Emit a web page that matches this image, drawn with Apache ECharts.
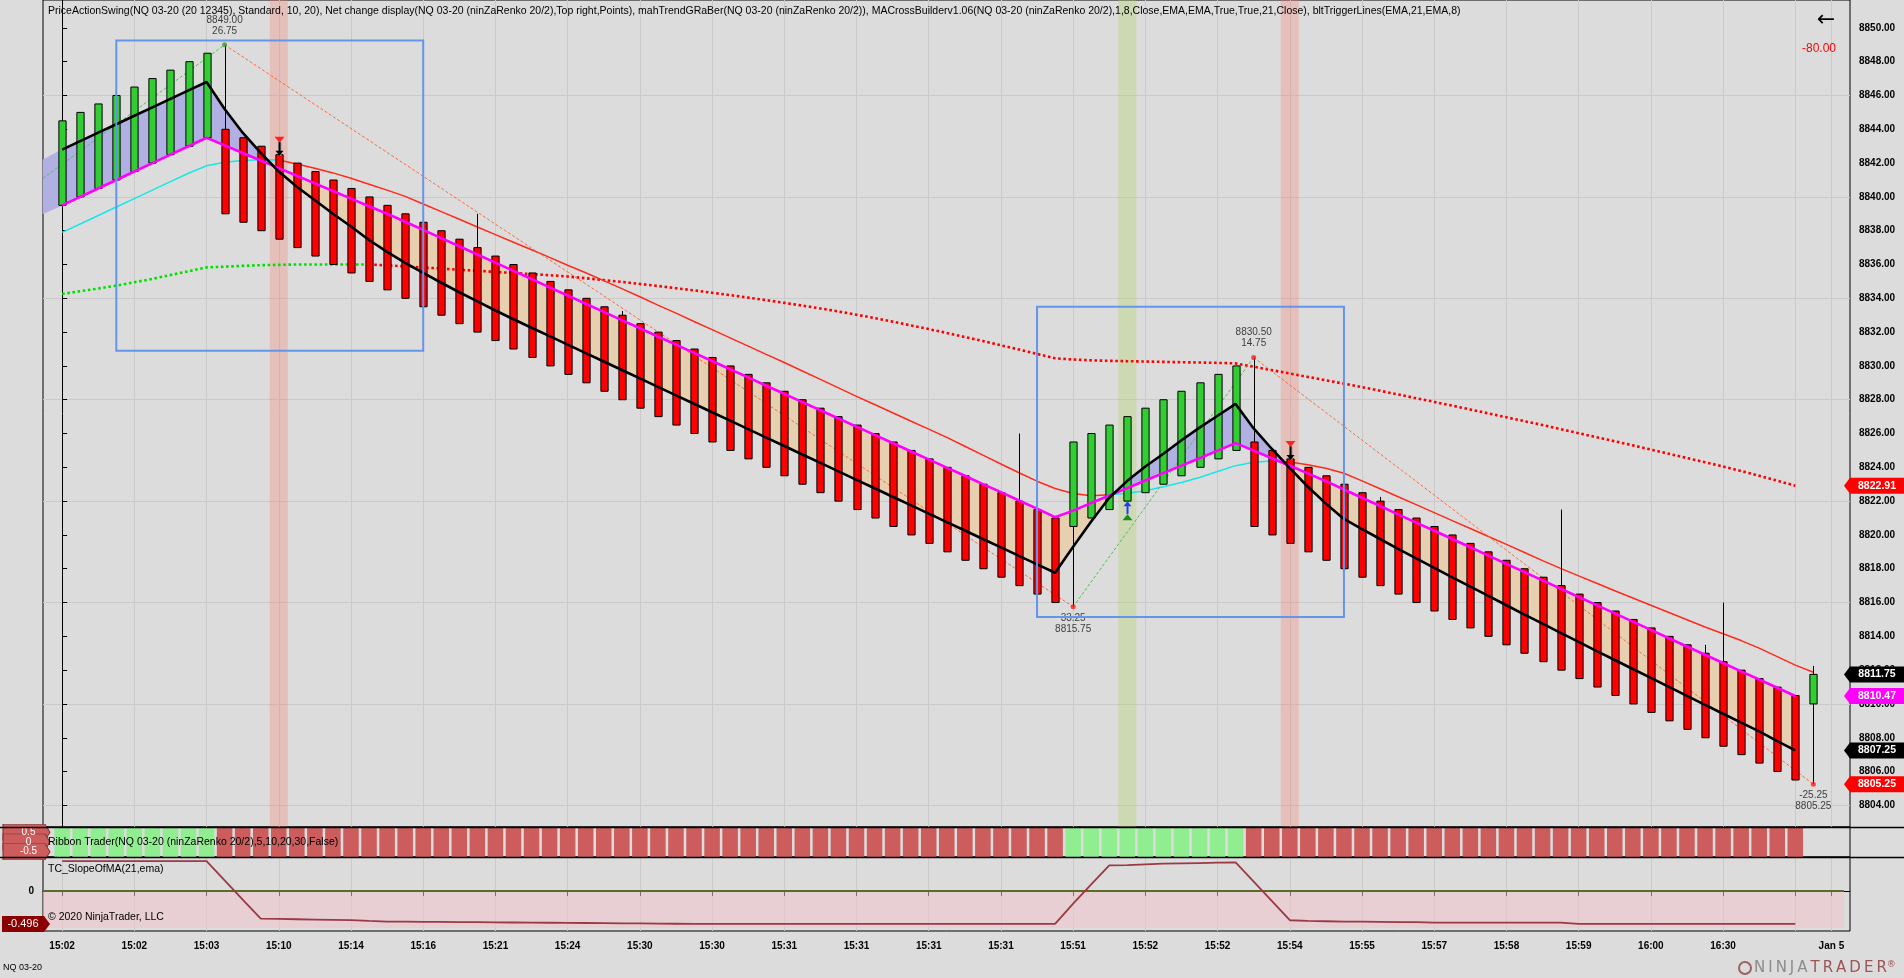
<!DOCTYPE html>
<html>
<head>
<meta charset="utf-8">
<title>NQ 03-20 (ninZaRenko 20/2)</title>
<script src="https://cdn.jsdelivr.net/npm/echarts@6.0.0/dist/echarts.min.js"></script>
<style>
  html, body { margin: 0; padding: 0; background: #dcdcdc; }
  #main { width: 1904px; height: 978px; }
</style>
</head>
<body>
<div id="main"></div>
<script>
// renko bars are indexed 0..97, the time axis only labels every 4th bar
const gridTicks = [0, 4, 8, 12, 16, 20, 24, 28, 32, 36, 40, 44, 48, 52, 56, 60, 64, 68, 72, 76, 80, 84, 88, 92, 96, 98];
const timeTicks = [0, 4, 8, 12, 16, 20, 24, 28, 32, 36, 40, 44, 48, 52, 56, 60, 64, 68, 72, 76, 80, 84, 88, 92, 98];
const timeLabels = ['15:02', '15:02', '15:03', '15:10', '15:14', '15:16', '15:21', '15:24', '15:30', '15:30', '15:31', '15:31', '15:31',
  '15:31', '15:51', '15:52', '15:52', '15:54', '15:55', '15:57', '15:58', '15:59', '16:00', '16:30', 'Jan 5'];

const priceTicks = [8804, 8806, 8808, 8810, 8812, 8814, 8816, 8818, 8820, 8822, 8824, 8826, 8828, 8830, 8832, 8834, 8836, 8838,
  8840, 8842, 8844, 8846, 8848, 8850];
const priceGridLines = [8804, 8810, 8816, 8822, 8828, 8834, 8840, 8846];

const opens = [
  8839.5, 8840.0, 8840.5, 8841.0, 8841.5, 8842.0, 8842.5, 8843.0, 8843.5,
  8844.0, 8843.5, 8843.0, 8842.5, 8842.0, 8841.5, 8841.0, 8840.5, 8840.0, 8839.5,
  8839.0, 8838.5, 8838.0, 8837.5, 8837.0, 8836.5, 8836.0, 8835.5, 8835.0, 8834.5,
  8834.0, 8833.5, 8833.0, 8832.5, 8832.0, 8831.5, 8831.0, 8830.5, 8830.0, 8829.5,
  8829.0, 8828.5, 8828.0, 8827.5, 8827.0, 8826.5, 8826.0, 8825.5, 8825.0, 8824.5,
  8824.0, 8823.5, 8823.0, 8822.5, 8822.0, 8821.5, 8821.0,
  8820.5, 8821.0, 8821.5, 8822.0, 8822.5, 8823.0, 8823.5, 8824.0, 8824.5, 8825.0,
  8825.5, 8825.0, 8824.5, 8824.0, 8823.5, 8823.0, 8822.5, 8822.0, 8821.5, 8821.0,
  8820.5, 8820.0, 8819.5, 8819.0, 8818.5, 8818.0, 8817.5, 8817.0, 8816.5, 8816.0,
  8815.5, 8815.0, 8814.5, 8814.0, 8813.5, 8813.0, 8812.5, 8812.0, 8811.5, 8811.0,
  8810.5,
  8810.0
];
const closes = [
  8844.5, 8845.0, 8845.5, 8846.0, 8846.5, 8847.0, 8847.5, 8848.0, 8848.5,
  8839.0, 8838.5, 8838.0, 8837.5, 8837.0, 8836.5, 8836.0, 8835.5, 8835.0, 8834.5,
  8834.0, 8833.5, 8833.0, 8832.5, 8832.0, 8831.5, 8831.0, 8830.5, 8830.0, 8829.5,
  8829.0, 8828.5, 8828.0, 8827.5, 8827.0, 8826.5, 8826.0, 8825.5, 8825.0, 8824.5,
  8824.0, 8823.5, 8823.0, 8822.5, 8822.0, 8821.5, 8821.0, 8820.5, 8820.0, 8819.5,
  8819.0, 8818.5, 8818.0, 8817.5, 8817.0, 8816.5, 8816.0,
  8825.5, 8826.0, 8826.5, 8827.0, 8827.5, 8828.0, 8828.5, 8829.0, 8829.5, 8830.0,
  8820.5, 8820.0, 8819.5, 8819.0, 8818.5, 8818.0, 8817.5, 8817.0, 8816.5, 8816.0,
  8815.5, 8815.0, 8814.5, 8814.0, 8813.5, 8813.0, 8812.5, 8812.0, 8811.5, 8811.0,
  8810.5, 8810.0, 8809.5, 8809.0, 8808.5, 8808.0, 8807.5, 8807.0, 8806.5, 8806.0,
  8805.5,
  8811.75
];
// only the bars that show a wick outside the brick
const wickHighs = [[9, 8849.0], [23, 8839.0], [31, 8833.25], [53, 8826.0], [66, 8830.5], [73, 8822.25], [83, 8821.5],
  [91, 8813.5], [92, 8816.0], [97, 8812.25]];
const wickLows = [[56, 8815.75], [97, 8805.25]];

// mahTrendGRaBer (black)
const trendLine = [
  8842.8, 8843.3, 8843.8, 8844.3, 8844.8, 8845.3, 8845.8, 8846.3, 8846.8,
  8845.2, 8843.8, 8842.6, 8841.5, 8840.6, 8839.8, 8839.0, 8838.25, 8837.45, 8836.75, 8836.1, 8835.5, 8834.92, 8834.36, 8833.82, 8833.28,
  8832.76, 8832.26, 8831.76, 8831.26, 8830.76, 8830.26, 8829.76, 8829.26, 8828.76, 8828.26, 8827.76, 8827.26, 8826.76, 8826.26,
  8825.76, 8825.26, 8824.76, 8824.26, 8823.76, 8823.26, 8822.76, 8822.26, 8821.76, 8821.26, 8820.76, 8820.26, 8819.76, 8819.26,
  8818.76, 8818.26, 8817.76,
  8819.3, 8820.8, 8822.2, 8823.2, 8824.05, 8824.8, 8825.6, 8826.35, 8827.05, 8827.75,
  8826.3, 8825.1, 8823.95, 8822.85, 8821.85,
  8820.95, 8820.35, 8819.76, 8819.18, 8818.61, 8818.05, 8817.49, 8816.94, 8816.39, 8815.84, 8815.29, 8814.75, 8814.21,
  8813.67, 8813.13, 8812.6, 8812.07, 8811.54, 8811.01, 8810.48, 8809.95, 8809.42, 8808.9, 8808.38, 8807.8, 8807.25
];
// bltTriggerLines EMA 8 (magenta)
const triggerLine = [
  8839.5, 8840.0, 8840.5, 8841.0, 8841.5, 8842.0, 8842.5, 8843.0, 8843.5,
  8843.05, 8842.6, 8842.15, 8841.7, 8841.25, 8840.8, 8840.35, 8839.9, 8839.45, 8839.0, 8838.53,
  8838.05, 8837.56, 8837.08, 8836.59, 8836.11, 8835.62, 8835.14, 8834.65, 8834.17, 8833.68, 8833.2, 8832.71,
  8832.23, 8831.74, 8831.26, 8830.77, 8830.29, 8829.8, 8829.32, 8828.83, 8828.35, 8827.86, 8827.38, 8826.89,
  8826.41, 8825.92, 8825.44, 8824.95, 8824.47, 8823.98, 8823.5, 8823.01, 8822.53, 8822.04, 8821.56, 8821.05,
  8821.44, 8821.89, 8822.33, 8822.77, 8823.22, 8823.66, 8824.1, 8824.54, 8824.99, 8825.43,
  8824.99, 8824.54, 8824.09, 8823.64, 8823.18, 8822.69, 8822.2, 8821.71, 8821.22, 8820.73, 8820.25, 8819.76,
  8819.27, 8818.78, 8818.29, 8817.8, 8817.31, 8816.82, 8816.33, 8815.85, 8815.36, 8814.87, 8814.38, 8813.89,
  8813.4, 8812.91, 8812.42, 8811.93, 8811.45, 8810.96, 8810.47
];
// MACrossBuilder fast EMA (cyan rising / red falling)
const emaFast = [
  8837.9, 8838.4, 8838.9, 8839.4, 8839.9, 8840.4, 8840.9, 8841.4, 8841.84, 8842.05, 8842.15, 8842.2, 8842.18,
  8841.95, 8841.7, 8841.42, 8841.1, 8840.75, 8840.4, 8840.03, 8839.58, 8839.13, 8838.68, 8838.22, 8837.77, 8837.32,
  8836.87, 8836.42, 8835.96, 8835.51,
  8835.05, 8834.57, 8834.09, 8833.6, 8833.12, 8832.63, 8832.15, 8831.66, 8831.17, 8830.68, 8830.2, 8829.7, 8829.2,
  8828.7, 8828.2, 8827.72, 8827.23, 8826.74, 8826.26, 8825.77, 8825.25, 8824.72, 8824.2, 8823.68, 8823.18, 8822.75,
  8822.45, 8822.32,
  8822.38, 8822.46, 8822.62, 8822.85, 8823.1, 8823.4, 8823.75, 8824.1, 8824.3, 8824.38, 8824.32, 8824.15, 8823.95,
  8823.65, 8823.2, 8822.73, 8822.26, 8821.79, 8821.32, 8820.85, 8820.38, 8819.91, 8819.44, 8818.96, 8818.48, 8818.02,
  8817.58, 8817.14, 8816.7, 8816.27, 8815.84, 8815.41, 8814.98, 8814.55, 8814.15, 8813.75, 8813.3, 8812.8, 8812.3, 8811.88
];
const emaFastUpRuns = [[0, 12], [58, 67]];
const emaFastDownRuns = [[12, 58], [67, 97]];
// slow EMA 21 (dotted)
const emaSlow = [
  8834.26, 8834.42, 8834.58, 8834.75, 8834.95, 8835.15, 8835.38, 8835.6, 8835.83, 8835.87, 8835.92, 8835.96, 8835.98,
  8836.0, 8836.0, 8836.0, 8836.0, 8836.0,
  8835.95, 8835.89, 8835.82, 8835.76, 8835.69, 8835.63, 8835.56, 8835.5, 8835.43, 8835.37, 8835.29, 8835.19, 8835.08,
  8834.97, 8834.85, 8834.73, 8834.6, 8834.47, 8834.33, 8834.19, 8834.04, 8833.89, 8833.73, 8833.57, 8833.4, 8833.22,
  8833.03, 8832.83, 8832.62, 8832.4, 8832.18, 8831.95, 8831.71, 8831.47, 8831.22, 8830.97, 8830.71, 8830.45,
  8830.38, 8830.33, 8830.3, 8830.28, 8830.26, 8830.24, 8830.22, 8830.2, 8830.18, 8830.15,
  8829.95, 8829.75, 8829.55, 8829.35, 8829.15, 8828.95, 8828.75, 8828.53, 8828.31, 8828.09, 8827.87, 8827.65, 8827.42,
  8827.19, 8826.96, 8826.73, 8826.5, 8826.26, 8826.02, 8825.78, 8825.54, 8825.3, 8825.05, 8824.8, 8824.55, 8824.3,
  8824.05, 8823.78, 8823.5, 8823.21, 8822.91
];
const emaSlowUpRuns = [[0, 17]];
const emaSlowDownRuns = [[17, 96]];

// PriceActionSwing zigzag (first point is where the line enters from the left edge)
const swingX = [-1.06, 9, 56, 66, 97];
const swingY = [8841.1, 8849.0, 8815.75, 8830.5, 8805.25];
const swingNet = ['', '26.75', '33.25', '14.75', '-25.25'];

// swing boxes: [fromBar, toBar, top, bottom]
const swingBoxes = [[3, 20, 8849.25, 8830.9], [54, 71, 8833.5, 8815.15]];

const sellBars = [12, 68];
const buyBars = [59];

const ribbonRuns = [[0, 8, 1], [9, 55, -1], [56, 65, 1], [66, 96, -1]];
const ribbonLevels = [0.5, 0, -0.5];

// TC_SlopeOfMA(21, ema)
const slopeValues = [
  0.45, 0.45, 0.45, 0.45, 0.45, 0.45, 0.45, 0.45, 0.45,
  0.16, -0.13, -0.417, -0.42, -0.425, -0.43, -0.434, -0.438, -0.45, -0.46, -0.462, -0.464, -0.466, -0.468, -0.47,
  -0.472, -0.474, -0.476, -0.478, -0.48, -0.482, -0.484, -0.486, -0.488, -0.49, -0.493,
  -0.496, -0.496, -0.496, -0.496, -0.496, -0.496, -0.496, -0.496, -0.496, -0.496, -0.496, -0.496, -0.496, -0.496,
  -0.496, -0.496, -0.496, -0.496, -0.496, -0.496, -0.496,
  -0.19, 0.1, 0.385, 0.39, 0.4, 0.41, 0.415, 0.42, 0.425, 0.43,
  0.14, -0.15, -0.44, -0.45, -0.455, -0.46, -0.46, -0.465, -0.47, -0.47,
  -0.475, -0.475, -0.475, -0.475, -0.475, -0.475, -0.475, -0.475,
  -0.496, -0.496, -0.496, -0.496, -0.496, -0.496, -0.496, -0.496, -0.496, -0.496, -0.496, -0.496, -0.496
];

// price markers on the right axis
const tagValues = [8822.91, 8811.75, 8810.47, 8807.25, 8805.25];
const tagColors = ['#ff0000', '#000000', '#ff00ff', '#000000', '#ff0000'];

const X_MIN = -1.06, X_MAX = 99.03;
const FONT = 'Liberation Sans, Arial, sans-serif';
const GREEN = '#32cd32', RED = '#ff0000';
const LAVENDER = '#b0b0e2', TAN = '#e6d0b0';
const GRIDLINE = '#cacaca';

const chart = echarts.init(document.getElementById('main'), null, { renderer: 'canvas' });

const highOf = new Map(wickHighs);
const lowOf = new Map(wickLows);
const candleData = opens.map((o, i) => {
  const c = closes[i];
  return [i, o, c, lowOf.has(i) ? lowOf.get(i) : Math.min(o, c), highOf.has(i) ? highOf.get(i) : Math.max(o, c)];
});

function pairs(arr, a, b) {
  const out = [];
  for (let i = a; i <= b; i++) if (arr[i] != null) out.push([i, arr[i]]);
  return out;
}

// fill between trend and trigger, one item per bar-to-bar segment
const bandData = [[X_MIN, 8842.2, 8839.0, 0, trendLine[0], triggerLine[0]]];
for (let i = 0; i < trendLine.length - 1; i++) {
  bandData.push([i, trendLine[i], triggerLine[i], i + 1, trendLine[i + 1], triggerLine[i + 1]]);
}

const ribbonData = [];
ribbonRuns.forEach(([a, b, d]) => { for (let i = a; i <= b; i++) ribbonData.push([i, d]); });

function renderCandle(params, api) {
  const x = api.value(0), o = api.value(1), c = api.value(2), lo = api.value(3), hi = api.value(4);
  const top = api.coord([x, Math.max(o, c)]);
  const bot = api.coord([x, Math.min(o, c)]);
  const h = api.coord([x, hi]), l = api.coord([x, lo]);
  const w = api.size([1, 0])[0] * 0.4;
  const cx = Math.round(top[0]) + 0.5;
  return {
    type: 'group',
    children: [
      { type: 'line', shape: { x1: cx, y1: h[1], x2: cx, y2: l[1] }, style: { stroke: '#000', lineWidth: 1 } },
      { type: 'rect', shape: { x: cx - w / 2, y: top[1], width: w, height: bot[1] - top[1] },
        style: { fill: c >= o ? GREEN : RED, stroke: '#000', lineWidth: 1 } }
    ]
  };
}

function renderBand(params, api) {
  const x0 = api.value(0), b0 = api.value(1), m0 = api.value(2);
  const x1 = api.value(3), b1 = api.value(4), m1 = api.value(5);
  const d0 = b0 - m0, d1 = b1 - m1;
  const poly = (pts, col) => ({
    type: 'polygon',
    shape: { points: pts.map(p => api.coord(p)) },
    style: { fill: col, stroke: col, lineWidth: 0.6 }
  });
  if (d0 * d1 >= 0) {
    return poly([[x0, b0], [x1, b1], [x1, m1], [x0, m0]], d0 + d1 >= 0 ? LAVENDER : TAN);
  }
  const t = d0 / (d0 - d1);
  const xc = x0 + t * (x1 - x0), yc = b0 + t * (b1 - b0);
  return {
    type: 'group',
    children: [
      poly([[x0, b0], [xc, yc], [x0, m0]], d0 >= 0 ? LAVENDER : TAN),
      poly([[xc, yc], [x1, b1], [x1, m1]], d1 >= 0 ? LAVENDER : TAN)
    ]
  };
}

function renderSignal(params, api) {
  const x = api.value(0), y = api.value(1), dir = api.value(2);
  const p = api.coord([x, y]);
  const cx = Math.round(p[0]) + 0.5;
  if (dir < 0) {
    const tip = p[1] + 1;
    return {
      type: 'group',
      children: [
        { type: 'line', shape: { x1: cx + 1, y1: tip - 13, x2: cx + 1, y2: tip }, style: { stroke: '#999', lineWidth: 2 } },
        { type: 'line', shape: { x1: cx, y1: tip - 14, x2: cx, y2: tip - 3 }, style: { stroke: '#000', lineWidth: 2 } },
        { type: 'polygon', shape: { points: [[cx - 4, tip - 5], [cx + 4, tip - 5], [cx, tip]] }, style: { fill: '#000' } },
        { type: 'polygon', shape: { points: [[cx - 5, tip - 19], [cx + 5, tip - 19], [cx, tip - 13]] }, style: { fill: '#ff2020' } }
      ]
    };
  }
  const tip = p[1];
  return {
    type: 'group',
    children: [
      { type: 'line', shape: { x1: cx, y1: tip + 3, x2: cx, y2: tip + 13 }, style: { stroke: '#1e3cff', lineWidth: 2 } },
      { type: 'polygon', shape: { points: [[cx - 4, tip + 5], [cx + 4, tip + 5], [cx, tip]] }, style: { fill: '#1e3cff' } },
      { type: 'polygon', shape: { points: [[cx - 5, tip + 19], [cx + 5, tip + 19], [cx, tip + 13]] }, style: { fill: '#1f8a1f' } }
    ]
  };
}

function renderRibbon(params, api) {
  const x = api.value(0), d = api.value(1);
  const cs = params.coordSys;
  const p = api.coord([x, 0]);
  const w = api.size([1, 0])[0] * 0.86;
  return {
    type: 'rect',
    shape: { x: p[0] - w / 2, y: cs.y + 1, width: w, height: cs.height - 1 },
    style: { fill: d > 0 ? '#90ee90' : '#cd5c5c' }
  };
}

const signalData = sellBars.map(i => [i, opens[i], -1]).concat(buyBars.map(i => [i, opens[i], 1]));
const verticalGrid = gridTicks.map(v => ({ xAxis: v }));

const series = [];

// grid lines, signal columns
series.push({
  type: 'scatter', xAxisIndex: 0, yAxisIndex: 0, data: [[0, 8830]], symbolSize: 0, silent: true, z: 0,
  markLine: {
    silent: true, symbol: 'none', z: 0, label: { show: false },
    lineStyle: { color: GRIDLINE, width: 1, type: 'solid' },
    data: priceGridLines.map(v => ({ yAxis: v })).concat(verticalGrid)
  },
  markArea: {
    silent: true, z: 1,
    data: sellBars.map(i => [{ xAxis: i - 0.5, itemStyle: { color: 'rgba(255,120,100,0.28)' } }, { xAxis: i + 0.5 }])
      .concat(buyBars.map(i => [{ xAxis: i - 0.5, itemStyle: { color: 'rgba(170,210,90,0.32)' } }, { xAxis: i + 0.5 }]))
  }
});

series.push({
  type: 'custom', xAxisIndex: 0, yAxisIndex: 0, data: bandData, renderItem: renderBand, z: 2, silent: true,
  encode: { x: [0, 3], y: [1, 2, 4, 5] }
});

emaSlowUpRuns.forEach(([a, b]) => series.push({
  type: 'line', xAxisIndex: 0, yAxisIndex: 0, data: pairs(emaSlow, a, b), symbol: 'none', z: 3,
  lineStyle: { color: '#00e000', width: 2.6, type: [2.6, 2.6] }
}));
emaSlowDownRuns.forEach(([a, b]) => series.push({
  type: 'line', xAxisIndex: 0, yAxisIndex: 0, data: pairs(emaSlow, a, b), symbol: 'none', z: 3,
  lineStyle: { color: '#ff0000', width: 2.6, type: [2.6, 2.6] }
}));
emaFastUpRuns.forEach(([a, b]) => series.push({
  type: 'line', xAxisIndex: 0, yAxisIndex: 0, data: pairs(emaFast, a, b), symbol: 'none', z: 3,
  lineStyle: { color: '#19e6e6', width: 1.5 }
}));
emaFastDownRuns.forEach(([a, b]) => series.push({
  type: 'line', xAxisIndex: 0, yAxisIndex: 0, data: pairs(emaFast, a, b), symbol: 'none', z: 3,
  lineStyle: { color: '#ff2a1a', width: 1.5 }
}));

for (let k = 0; k < swingX.length - 1; k++) {
  const up = swingY[k + 1] > swingY[k];
  series.push({
    type: 'line', xAxisIndex: 0, yAxisIndex: 0, symbol: 'none', z: 3,
    data: [[swingX[k], swingY[k]], [swingX[k + 1], swingY[k + 1]]],
    lineStyle: { color: up ? '#4fc04f' : '#ff6a3d', width: 1, type: [3, 2] }
  });
}

series.push({
  type: 'custom', xAxisIndex: 0, yAxisIndex: 0, data: candleData, renderItem: renderCandle, z: 4,
  encode: { x: 0, y: [1, 2, 3, 4] }
});

series.push({
  type: 'line', xAxisIndex: 0, yAxisIndex: 0, data: pairs(triggerLine, 0, 96), symbol: 'none', z: 5,
  lineStyle: { color: '#ff00ff', width: 2.6 }
});
series.push({
  type: 'line', xAxisIndex: 0, yAxisIndex: 0, data: pairs(trendLine, 0, 96), symbol: 'none', z: 5,
  lineStyle: { color: '#000000', width: 2.6 }
});

series.push({
  type: 'custom', xAxisIndex: 0, yAxisIndex: 0, data: signalData, renderItem: renderSignal, z: 6,
  encode: { x: 0, y: 1 }
});

// swing points with price / net change text
series.push({
  type: 'scatter', xAxisIndex: 0, yAxisIndex: 0, z: 7, symbolSize: 5,
  data: swingX.slice(1).map((x, k) => {
    const j = k + 1;
    const isHigh = swingY[j] > swingY[j - 1];
    const price = swingY[j].toFixed(2);
    return {
      value: [x, swingY[j]],
      itemStyle: { color: j === 1 ? '#3a9a3a' : '#ff2020' },
      label: {
        show: true, position: isHigh ? 'top' : 'bottom', distance: isHigh ? 6 : 3,
        formatter: isHigh ? price + '\n' + swingNet[j] : swingNet[j] + '\n' + price,
        fontFamily: FONT, fontSize: 10, lineHeight: 11, color: '#111', align: 'center'
      }
    };
  })
});

series.push({
  type: 'scatter', xAxisIndex: 0, yAxisIndex: 0, data: [[0, 8830]], symbolSize: 0, silent: true, z: 8,
  markArea: {
    silent: true, z: 8,
    itemStyle: { color: 'rgba(0,0,0,0)', borderColor: '#6495ed', borderWidth: 2 },
    data: swingBoxes.map(([a, b, t, btm]) => [{ coord: [a, t] }, { coord: [b, btm] }])
  }
});

// right-axis price tags
series.push({
  type: 'scatter', xAxisIndex: 0, yAxisIndex: 0, data: [[0, 8830]], symbolSize: 0, silent: true, clip: false, z: 9,
  markPoint: {
    silent: true,
    symbol: 'path://M0,8L6,0L60,0L60,16L6,16Z',
    symbolSize: [60, 16], symbolOffset: [24, 0], symbolKeepAspect: false,
    label: {
      show: true, position: 'inside', offset: [3, 0], color: '#fff', fontFamily: FONT, fontSize: 10.5, fontWeight: 'bold',
      formatter: p => Number(p.value).toFixed(2)
    },
    data: tagValues.map((v, k) => ({ coord: [X_MAX, v], value: v, itemStyle: { color: tagColors[k] } }))
  }
});

series.push({
  type: 'custom', xAxisIndex: 1, yAxisIndex: 1, data: ribbonData, renderItem: renderRibbon, z: 2,
  encode: { x: 0, y: 1 }
});

// ribbon level tags on the left
series.push({
  type: 'scatter', xAxisIndex: 1, yAxisIndex: 1, data: [[0, 0]], symbolSize: 0, silent: true, clip: false, z: 9,
  markPoint: {
    silent: true,
    symbol: 'path://M0,0L42,0L47,8L42,16L0,16Z',
    symbolSize: [47, 16], symbolOffset: [-16.5, 0], symbolKeepAspect: false,
    itemStyle: { color: '#cd5c5c', borderColor: '#7a3030', borderWidth: 0.6 },
    label: {
      show: true, position: 'inside', offset: [2, 0], color: '#fff', fontFamily: FONT, fontSize: 10,
      formatter: p => String(p.value)
    },
    data: ribbonLevels.map(v => ({ coord: [X_MIN, v], value: v }))
  }
});

series.push({
  type: 'scatter', xAxisIndex: 2, yAxisIndex: 2, data: [[0, 0]], symbolSize: 0, silent: true, z: 0,
  markLine: {
    silent: true, symbol: 'none', z: 0, label: { show: false },
    lineStyle: { color: GRIDLINE, width: 1, type: 'solid' },
    data: verticalGrid
  }
});

series.push({
  type: 'line', xAxisIndex: 2, yAxisIndex: 2, data: pairs(slopeValues, 0, 96), symbol: 'none', z: 4,
  lineStyle: { color: '#9a3a44', width: 1.8 },
  markArea: {
    silent: true, z: 1,
    itemStyle: { color: 'rgba(240,196,204,0.55)' },
    data: [[{ coord: [X_MIN, 0] }, { coord: [98.7, -0.556] }]]
  },
  markLine: {
    silent: true, symbol: 'none', z: 3, label: { show: false },
    lineStyle: { color: '#5a6b2e', width: 2, type: 'solid' },
    data: [[{ coord: [X_MIN, 0] }, { coord: [98.7, 0] }]]
  }
});

series.push({
  type: 'scatter', xAxisIndex: 2, yAxisIndex: 2, data: [[0, 0]], symbolSize: 0, silent: true, clip: false, z: 9,
  markPoint: {
    silent: true,
    symbol: 'path://M0,0L42,0L48,8L42,16L0,16Z',
    symbolSize: [48, 16], symbolOffset: [-17, 0], symbolKeepAspect: false,
    label: {
      show: true, position: 'inside', offset: [-3, 0], color: '#fff', fontFamily: FONT, fontSize: 11,
      formatter: p => Number(p.value).toFixed(3)
    },
    data: [{ coord: [X_MIN, slopeValues[96]], value: slopeValues[96], itemStyle: { color: '#8b0000' } }]
  }
});

const hiddenX = (gi) => ({
  type: 'value', gridIndex: gi, min: X_MIN, max: X_MAX,
  axisLine: { show: false }, axisLabel: { show: false }, axisTick: { show: false }, splitLine: { show: false }
});

const option = {
  backgroundColor: '#dcdcdc',
  animation: false,
  textStyle: { fontFamily: FONT },
  grid: [
    { left: 43, right: 54, top: -1, height: 828, show: true, borderColor: '#000', borderWidth: 1, backgroundColor: 'transparent' },
    { left: 43, right: 54, top: 827, height: 30, show: true, borderColor: '#000', borderWidth: 1, backgroundColor: 'transparent' },
    { left: 43, right: 54, top: 857, height: 74, show: true, borderColor: '#000', borderWidth: 1, backgroundColor: 'transparent' }
  ],
  xAxis: [
    hiddenX(0),
    hiddenX(1),
    {
      type: 'value', gridIndex: 2, min: X_MIN, max: X_MAX,
      axisLine: { show: true, lineStyle: { color: '#000', width: 1 } },
      axisTick: { show: true, length: 5, customValues: gridTicks, lineStyle: { color: '#000' } },
      axisLabel: {
        customValues: timeTicks, margin: 10, color: '#000', fontSize: 10, fontWeight: 'bold', fontFamily: FONT,
        formatter: v => { const k = timeTicks.indexOf(Math.round(v)); return k >= 0 ? timeLabels[k] : ''; }
      },
      splitLine: { show: false }
    }
  ],
  yAxis: [
    {
      type: 'value', gridIndex: 0, position: 'right', min: 8802.72, max: 8851.65,
      axisLine: { show: true, lineStyle: { color: '#000', width: 1 } },
      axisTick: { show: true, length: 5, inside: false, customValues: priceTicks, lineStyle: { color: '#000' } },
      axisLabel: {
        customValues: priceTicks, margin: 9, color: '#000', fontSize: 10, fontWeight: 'bold', fontFamily: FONT,
        formatter: v => v.toFixed(2)
      },
      splitLine: { show: false }
    },
    {
      type: 'value', gridIndex: 1, position: 'left', min: -0.77, max: 0.77,
      axisLine: { show: false }, axisTick: { show: false }, splitLine: { show: false }, axisLabel: { show: false }
    },
    {
      type: 'value', gridIndex: 2, position: 'left', min: -0.602, max: 0.511,
      axisLine: { show: false }, axisTick: { show: false }, splitLine: { show: false },
      axisLabel: { customValues: [0], margin: 9, color: '#000', fontSize: 10, fontWeight: 'bold', fontFamily: FONT }
    }
  ],
  series: series,
  graphic: [
    { type: 'line', silent: true, z: 50, shape: { x1: 0, y1: 827.5, x2: 1904, y2: 827.5 }, style: { stroke: '#000', lineWidth: 1.5 } },
    { type: 'line', silent: true, z: 50, shape: { x1: 0, y1: 857.5, x2: 1904, y2: 857.5 }, style: { stroke: '#000', lineWidth: 1.5 } },
    {
      type: 'text', silent: true, z: 50, x: 48, y: 11,
      style: {
        text: 'PriceActionSwing(NQ 03-20 (20 12345), Standard, 10, 20), Net change display(NQ 03-20 (ninZaRenko 20/2),Top right,Points), mahTrendGRaBer(NQ 03-20 (ninZaRenko 20/2)), MACrossBuilderv1.06(NQ 03-20 (ninZaRenko 20/2),1,8,Close,EMA,EMA,True,True,21,Close), bltTriggerLines(EMA,21,EMA,8)',
        font: '10.5px ' + FONT, fill: '#000', verticalAlign: 'middle'
      }
    },
    { type: 'text', silent: true, z: 50, x: 1826, y: 20, style: { text: '\u2190', font: '22px DejaVu Sans', fill: '#000', align: 'center', verticalAlign: 'middle' } },
    { type: 'text', silent: true, z: 50, x: 1836, y: 49, style: { text: '-80.00', font: '12px ' + FONT, fill: '#ff0000', align: 'right', verticalAlign: 'middle' } },
    { type: 'text', silent: true, z: 50, x: 48, y: 842, style: { text: 'Ribbon Trader(NQ 03-20 (ninZaRenko 20/2),5,10,20,30,False)', font: '10.5px ' + FONT, fill: '#000', verticalAlign: 'middle' } },
    { type: 'text', silent: true, z: 50, x: 48, y: 869, style: { text: 'TC_SlopeOfMA(21,ema)', font: '10.5px ' + FONT, fill: '#000', verticalAlign: 'middle' } },
    { type: 'text', silent: true, z: 50, x: 48, y: 917, style: { text: '\u00a9 2020 NinjaTrader, LLC', font: '10.5px ' + FONT, fill: '#000', verticalAlign: 'middle' } },
    { type: 'text', silent: true, z: 50, x: 3, y: 968, style: { text: 'NQ 03-20', font: '9px ' + FONT, fill: '#000', verticalAlign: 'middle' } },
    { type: 'circle', silent: true, z: 50, shape: { cx: 1745, cy: 968, r: 6 }, style: { fill: 'none', stroke: '#a06060', lineWidth: 2 } },
    {
      type: 'text', silent: true, z: 50, x: 1754, y: 968,
      style: {
        text: '{a|N\u2009I\u2009N\u2009J\u2009A\u2009}{b|T\u2009R\u2009A\u2009D\u2009E\u2009R}{c|\u00ae}',
        verticalAlign: 'middle',
        rich: {
          a: { font: '15px DejaVu Sans', fill: '#8c8c8c' },
          b: { font: '15px DejaVu Sans', fill: '#9b5555' },
          c: { font: '9px DejaVu Sans', fill: '#9b5555', verticalAlign: 'top' }
        }
      }
    }
  ]
};

chart.setOption(option);
</script>
</body>
</html>
